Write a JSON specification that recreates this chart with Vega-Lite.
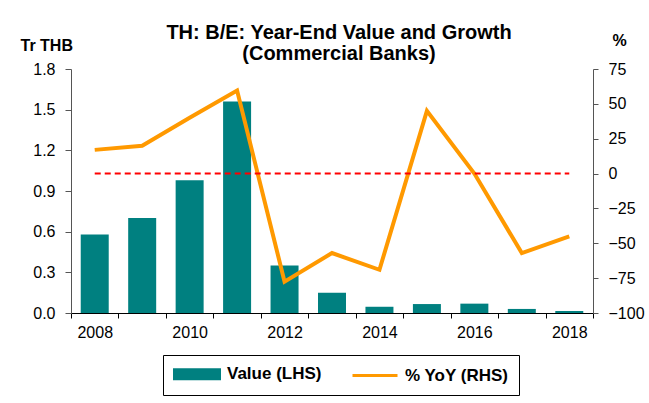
{
  "$schema": "https://vega.github.io/schema/vega-lite/v6.json",
  "width": 522,
  "height": 244,
  "autosize": "none",
  "padding": {"left": 71, "top": 69, "right": 56, "bottom": 90},
  "background": "white",
  "config": {
    "font": "Liberation Sans",
    "view": {"stroke": null},
    "axis": {"labelFont": "Liberation Sans", "titleFont": "Liberation Sans", "labelColor": "black", "titleColor": "black", "grid": false, "labelOverlap": false}
  },
  "title": {
    "text": ["TH: B/E: Year-End Value and Growth", "(Commercial Banks)"],
    "anchor": "middle",
    "fontSize": 20,
    "fontWeight": "bold",
    "font": "Liberation Sans",
    "color": "black",
    "lineHeight": 21,
    "offset": -32,
    "dx": 7
  },
  "data": {
    "values": [
      {"year": "2008", "value": 0.58, "yoy": 17},
      {"year": "2009", "value": 0.70, "yoy": 20},
      {"year": "2010", "value": 0.98, "yoy": 40},
      {"year": "2011", "value": 1.56, "yoy": 59.5},
      {"year": "2012", "value": 0.35, "yoy": -77.5},
      {"year": "2013", "value": 0.15, "yoy": -57},
      {"year": "2014", "value": 0.046, "yoy": -69},
      {"year": "2015", "value": 0.066, "yoy": 45},
      {"year": "2016", "value": 0.069, "yoy": 0},
      {"year": "2017", "value": 0.03, "yoy": -57},
      {"year": "2018", "value": 0.015, "yoy": -45}
    ]
  },
  "encoding": {
    "x": {
      "field": "year",
      "type": "ordinal",
      "scale": {"paddingInner": 0, "paddingOuter": 0},
      "axis": {
        "title": null,
        "labelAngle": 0,
        "labelFontSize": 16,
        "labelPadding": 6,
        "tickBand": "extent",
        "tickSize": 5,
        "tickColor": "black",
        "domainColor": "black",
        "labelExpr": "parseInt(datum.value) % 2 == 0 ? datum.label : ''"
      }
    }
  },
  "layer": [
    {
      "mark": {"type": "bar", "width": {"band": 0.59}},
      "encoding": {
        "y": {
          "field": "value",
          "type": "quantitative",
          "scale": {"domain": [0, 1.8], "nice": false},
          "axis": {
            "orient": "left",
            "values": [0, 0.3, 0.6, 0.9, 1.2, 1.5, 1.8],
            "format": ".1f",
            "labelOverlap": false,
            "title": "Tr THB",
            "titleAngle": 0,
            "titleAlign": "left",
            "titleBaseline": "alphabetic",
            "titleX": -51,
            "titleY": -19,
            "titleFontSize": 16,
            "titleFontWeight": "bold",
            "labelFontSize": 16,
            "labelPadding": 10,
            "tickSize": 6,
            "tickColor": "#555555",
            "domainColor": "#555555"
          }
        },
        "color": {
          "datum": "Value (LHS)",
          "scale": {"domain": ["Value (LHS)", "% YoY (RHS)"], "range": ["#008080", "#FF9900"]},
          "legend": {
            "title": null,
            "orient": "none",
            "legendX": 92,
            "legendY": 286,
            "direction": "horizontal",
            "strokeColor": "black",
            "padding": 10,
            "columnPadding": 24,
            "symbolSize": 225,
            "labelFont": "Liberation Sans",
            "labelFontSize": 17,
            "labelFontWeight": "bold",
            "labelColor": "black",
            "labelOffset": 36,
            "labelLimit": 300,
            "encode": {
              "symbols": {
                "update": {
                  "shape": {"signal": "datum.value === 'Value (LHS)' ? 'M-1,-0.6H5V0.6H-1Z' : 'M-1,0H5'"},
                  "fill": {"signal": "datum.value === 'Value (LHS)' ? '#008080' : 'transparent'"},
                  "stroke": {"signal": "datum.value === 'Value (LHS)' ? 'transparent' : '#FF9900'"},
                  "strokeWidth": {"value": 3},
                  "opacity": {"value": 1},
                  "fillOpacity": {"value": 1}
                }
              }
            }
          }
        }
      }
    },
    {
      "encoding": {
        "y": {
          "field": "yoy",
          "type": "quantitative",
          "scale": {"domain": [-100, 75], "nice": false},
          "axis": {
            "orient": "right",
            "values": [-100, -75, -50, -25, 0, 25, 50, 75],
            "labelOverlap": false,
            "title": "%",
            "titleAngle": 0,
            "titleAlign": "center",
            "titleBaseline": "alphabetic",
            "titleX": 26,
            "titleY": -24,
            "titleFontSize": 16,
            "titleFontWeight": "bold",
            "labelFontSize": 16,
            "labelPadding": 10,
            "tickSize": 5,
            "tickColor": "#555555",
            "domainColor": "#555555"
          }
        }
      },
      "layer": [
        {
          "mark": {"type": "line", "strokeWidth": 4},
          "encoding": {
            "color": {"datum": "% YoY (RHS)"}
          }
        },
        {
          "data": {"values": [{"year": "2008", "ref": 0}, {"year": "2018", "ref": 0}]},
          "mark": {"type": "line", "color": "#FF0000", "strokeWidth": 2, "strokeDash": [6, 4]},
          "encoding": {
            "y": {
              "field": "ref",
              "type": "quantitative",
              "axis": {
                "orient": "right",
                "values": [-100, -75, -50, -25, 0, 25, 50, 75],
                "labelOverlap": false,
                "title": "%",
                "titleAngle": 0,
                "titleAlign": "center",
                "titleBaseline": "alphabetic",
                "titleX": 26,
                "titleY": -24,
                "titleFontSize": 16,
                "titleFontWeight": "bold",
                "labelFontSize": 16,
                "labelPadding": 10,
                "tickSize": 5,
                "tickColor": "#555555",
                "domainColor": "#555555"
              }
            }
          }
        }
      ]
    }
  ],
  "resolve": {"scale": {"y": "independent"}}
}
